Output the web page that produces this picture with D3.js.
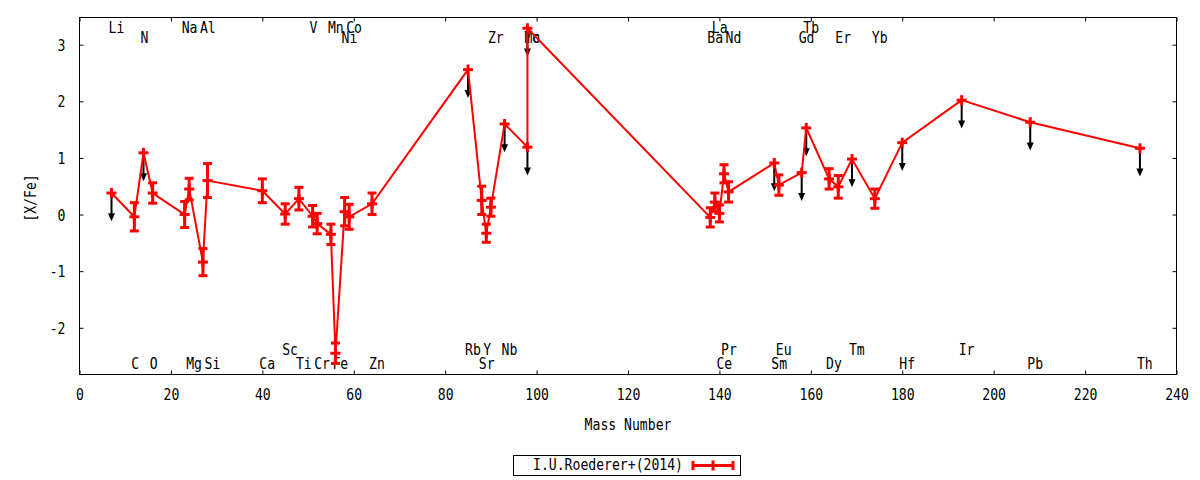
<!DOCTYPE html>
<html>
<head>
<meta charset="utf-8">
<script src="https://cdn.jsdelivr.net/npm/d3@7"></script>
<style>
  body { margin: 0; background: #fff; }
  text { font-family: "DejaVu Sans Mono", monospace; font-size: 15px; fill: #000; }
</style>
</head>
<body>
<div id="chart"></div>
<script>
// element, mass number, [X/Fe], error, upper limit flag, label row
const elements = ["Li","C","N","O","Na","Mg","Al","Si","Ca","Sc","Ti","V","Cr","Mn","Fe","Ni","Co","Zn",
    "Rb","Sr","Y","Zr","Nb","Mo","Tc","Ba","La","Ce","Pr","Nd","Sm","Eu","Gd","Tb","Dy","Er","Tm","Yb",
    "Hf","Ir","Pb","Th"];
const massNumbers = [7,12,14,16,23,24,27,28,40,45,48,51,52,55,56,58,59,64,
    85,88,89,90,93,98,98,138,139,140,141,142,152,153,158,159,164,166,169,174,
    180,193,208,232];
const abundances = [0.38,-0.04,1.09,0.38,0.00,0.45,-0.84,0.60,0.42,0.01,0.28,-0.03,-0.16,-0.35,-2.45,0.05,-0.04,0.19,
    2.56,0.25,-0.33,0.13,1.60,1.19,3.29,-0.05,0.22,0.02,0.72,0.40,0.91,0.52,0.74,1.53,0.63,0.49,0.98,0.28,
    1.27,2.02,1.63,1.17];
const errors = [0,0.25,0,0.18,0.23,0.19,0.24,0.30,0.21,0.18,0.20,0.19,0.18,0.18,0.18,0.25,0.22,0.19,
    0,0.25,0.16,0.16,0,0,0,0.17,0.16,0.15,0.16,0.18,0,0.18,0,0,0.18,0.20,0,0.17,
    0,0,0,0];
const upperLimit = [1,0,1,0,0,0,0,0,0,0,0,0,0,0,0,0,0,0,
    1,0,0,0,1,1,1,0,0,0,0,0,1,0,1,1,0,0,1,0,
    1,1,1,1];
// 1,2 = rows above the data, 3,4 = rows below
const labelRow = [1,4,2,4,1,4,1,4,4,3,4,1,4,1,4,2,1,4,
    3,4,3,2,3,2,2,2,1,4,3,2,4,3,2,1,4,2,3,2,
    4,3,4,4];
const xTicks = [0,20,40,60,80,100,120,140,160,180,200,220,240];
const yTicks = [-2,-1,0,1,2,3];
const seriesName = "I.U.Roederer+(2014)";
const limitArrow = 0.5;

const data = elements.map((e, i) => ({
    el: e, m: massNumbers[i], v: abundances[i], err: errors[i],
    ul: upperLimit[i] === 1, row: labelRow[i]
}));

const W = 1200, H = 480;
const SX = 0.875;   // narrow the mono font like the gnuplot one
const RED = "#ff0000";

const svg = d3.select("#chart").append("svg")
    .attr("width", W).attr("height", H);

const x = d3.scaleLinear().domain([0, 240]).range([79.5, 1176.5]);
const y = d3.scaleLinear().domain([-2.825, 3.48]).range([374.5, 17.5]);

function txt(sel, tx, ty, s, anchor, rot) {
    return sel.append("text")
        .attr("transform", `translate(${tx},${ty})` + (rot ? ` rotate(${rot})` : "") + ` scale(${SX},1)`)
        .attr("text-anchor", anchor || "start")
        .text(s);
}

// axes with inward ticks on all four sides
const fmt = d => String(d);
const gx = svg.append("g").attr("transform", `translate(0,${y.range()[0]})`)
    .call(d3.axisBottom(x).tickValues(xTicks).tickSizeInner(-4).tickSizeOuter(0).tickFormat(fmt));
gx.selectAll("text").attr("y", 25.5).attr("dy", null).attr("transform", `scale(${SX},1)`)
    .style("font-size", "15px").style("font-family", "DejaVu Sans Mono");
svg.append("g").attr("transform", `translate(0,${y.range()[1]})`)
    .call(d3.axisTop(x).tickValues(xTicks).tickSizeInner(-4).tickSizeOuter(0).tickFormat(""));

const gy = svg.append("g").attr("transform", `translate(${x.range()[0]},0)`)
    .call(d3.axisLeft(y).tickValues(yTicks).tickSizeInner(-4).tickSizeOuter(0).tickFormat(fmt));
gy.selectAll("text").attr("x", -14 / SX).attr("dy", null).attr("y", 5.5)
    .attr("transform", `scale(${SX},1)`)
    .style("font-size", "15px").style("font-family", "DejaVu Sans Mono");
svg.append("g").attr("transform", `translate(${x.range()[1]},0)`)
    .call(d3.axisRight(y).tickValues(yTicks).tickSizeInner(-4).tickSizeOuter(0).tickFormat(""));

svg.selectAll(".domain").remove();
svg.selectAll(".tick line").attr("stroke", "#000");

svg.append("rect")
    .attr("x", x.range()[0]).attr("y", y.range()[1])
    .attr("width", x.range()[1] - x.range()[0])
    .attr("height", y.range()[0] - y.range()[1])
    .attr("fill", "none").attr("stroke", "#000").attr("stroke-width", 1);

// axis titles
txt(svg, (x.range()[0] + x.range()[1]) / 2, 430, "Mass Number", "middle");
txt(svg, 36, 198, "[X/Fe]", "middle", -90);

// element labels
const rowBaseline = {1: 33.3, 2: 43.3, 3: 355, 4: 369.3};
const gl = svg.append("g");
data.forEach(d => txt(gl, x(d.m) - 3, rowBaseline[d.row], d.el, "start"));

// upper limit arrows
const ga = svg.append("g");
data.filter(d => d.ul).forEach(d => {
    const px = x(d.m), y0 = y(d.v), y1 = y(d.v - limitArrow);
    ga.append("line").attr("x1", px).attr("x2", px).attr("y1", y0).attr("y2", y1 - 6)
        .attr("stroke", "#000").attr("stroke-width", 2);
    ga.append("path")
        .attr("d", `M${px - 3.5},${y1 - 8} L${px + 3.5},${y1 - 8} L${px},${y1} Z`)
        .attr("fill", "#000");
});

// connecting line
svg.append("path")
    .datum(data)
    .attr("d", d3.line().x(d => x(d.m)).y(d => y(d.v)))
    .attr("fill", "none").attr("stroke", RED).attr("stroke-width", 2);

// error bars and markers
const gp = svg.append("g").attr("stroke", RED).attr("stroke-width", 3);
data.forEach(d => {
    const px = x(d.m), py = y(d.v);
    if (d.err > 0) {
        const yt = y(d.v + d.err), yb = y(d.v - d.err);
        gp.append("line").attr("x1", px).attr("x2", px).attr("y1", yt).attr("y2", yb);
        gp.append("line").attr("x1", px - 4.5).attr("x2", px + 4.5).attr("y1", yt).attr("y2", yt);
        gp.append("line").attr("x1", px - 4.5).attr("x2", px + 4.5).attr("y1", yb).attr("y2", yb);
    }
    gp.append("line").attr("x1", px - 5).attr("x2", px + 5).attr("y1", py).attr("y2", py);
    gp.append("line").attr("x1", px).attr("x2", px).attr("y1", py - 5).attr("y2", py + 5);
});

// legend
const lg = svg.append("g");
lg.append("rect").attr("x", 513.5).attr("y", 455.5).attr("width", 227).attr("height", 20)
    .attr("fill", "#fff").attr("stroke", "#000").attr("stroke-width", 1);
txt(lg, 683, 469.5, seriesName, "end");
const ly = 465.5, lx0 = 692, lx1 = 734;
lg.append("line").attr("x1", lx0).attr("x2", lx1).attr("y1", ly).attr("y2", ly)
    .attr("stroke", RED).attr("stroke-width", 3);
[lx0 + 1, lx1 - 1].forEach(cx => lg.append("line").attr("x1", cx).attr("x2", cx)
    .attr("y1", ly - 4.5).attr("y2", ly + 4.5).attr("stroke", RED).attr("stroke-width", 3));
lg.append("line").attr("x1", (lx0 + lx1) / 2).attr("x2", (lx0 + lx1) / 2)
    .attr("y1", ly - 5).attr("y2", ly + 5).attr("stroke", RED).attr("stroke-width", 3);
</script>
</body>
</html>
